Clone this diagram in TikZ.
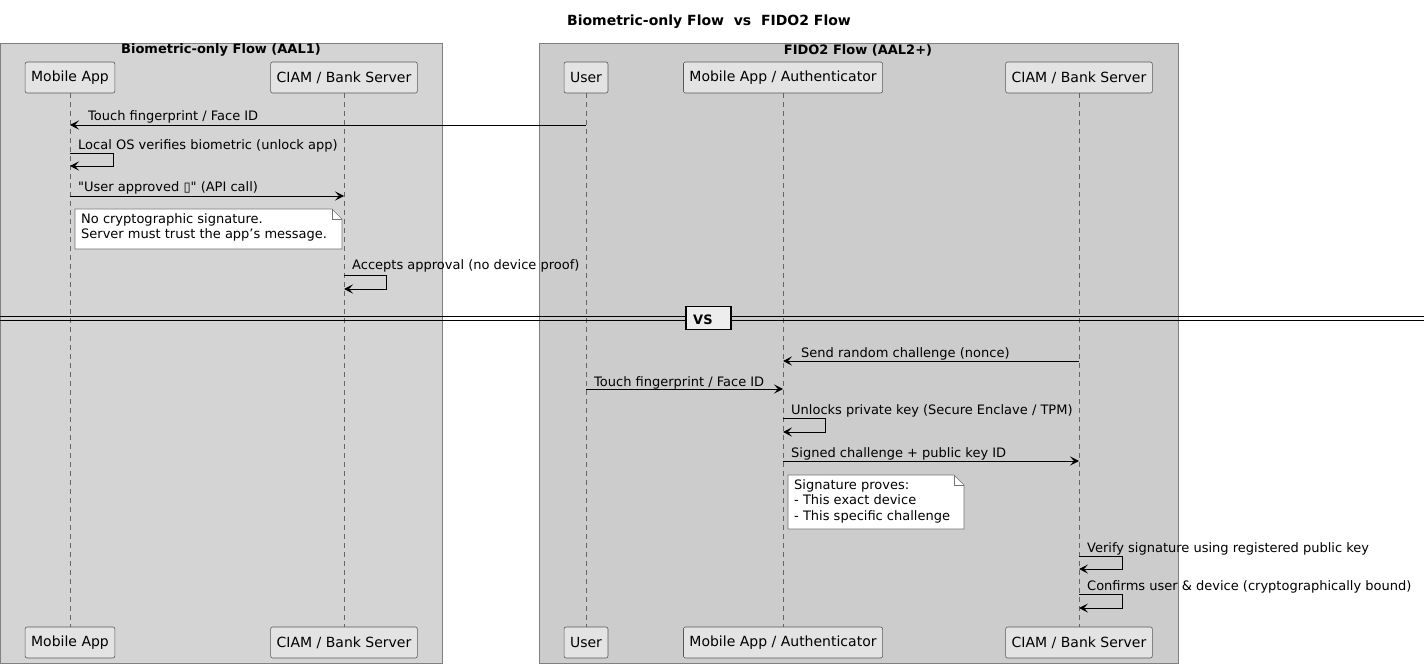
\documentclass[tikz,border=0pt]{standalone}
\usepackage{fontspec}
\setmainfont{DejaVu Sans}[Ligatures=TeXOff]
\usetikzlibrary{arrows.meta,calc}
\begin{document}
\begin{tikzpicture}[x=1pt,y=-1pt,
  grp/.style={draw=black!50,line width=0.8pt},
  part/.style={draw=black!65,fill=black!11,rounded corners=2pt,minimum height=31pt,inner xsep=6pt,font=\fontsize{14}{16}\selectfont,line width=0.6pt},
  life/.style={draw=black!60,dash pattern=on 5pt off 4pt,line width=0.6pt},
  msg/.style={draw=black,line width=0.8pt,-{Stealth[length=9pt,width=9pt,inset=4pt]}},
  lbl/.style={anchor=base west,inner sep=0pt,font=\fontsize{13}{15}\selectfont},
  notebox/.style={fill=white,draw=black!55,line width=0.6pt},
  ntext/.style={anchor=north west,inner sep=0pt,align=left,font=\fontsize{13}{15.5}\selectfont}
]
\useasboundingbox (0,0) rectangle (1424,668);
\fill[white] (0,0) rectangle (1424,668);
% title
\node[font=\bfseries\fontsize{14}{16}\selectfont] (title) at (709,22) {Biometric-only Flow\ \ vs\ \ FIDO2 Flow};
% groups
\draw[grp,fill=black!17] (0.5,43) rectangle (442,663);
\node[font=\bfseries\fontsize{13}{15}\selectfont] (g1) at (221,50) {Biometric-only Flow (AAL1)};
\draw[grp,fill=black!20] (539,43) rectangle (1178,663);
\node[font=\bfseries\fontsize{13}{15}\selectfont] (g2) at (858,50) {FIDO2 Flow (AAL2+)};
% lifelines
\foreach \x in {70,344,586,783,1079} \draw[life] (\x,93) -- (\x,627);
% participants top
\node[part] (ma) at (70,77.5) {Mobile App};
\node[part] (cs) at (344,77.5) {CIAM / Bank Server};
\node[part] (us) at (586,77.5) {User};
\node[part] (au) at (783,77.5) {Mobile App / Authenticator};
\node[part] (cs2) at (1079,77.5) {CIAM / Bank Server};
% participants bottom
\node[part] (mab) at (70,642.5) {Mobile App};
\node[part] (csb) at (344,642.5) {CIAM / Bank Server};
\node[part] (usb) at (586,642.5) {User};
\node[part] (aub) at (783,642.5) {Mobile App / Authenticator};
\node[part] (cs2b) at (1079,642.5) {CIAM / Bank Server};
% messages
\draw[msg] (us |- 0,125) -- (ma |- 0,125);
\node[lbl] (l1) at (88,121) {Touch fingerprint / Face ID};
\node[lbl] (l2) at (78,150) {Local OS verifies biometric (unlock app)};
\draw[msg] (ma |- 0,153) -- (113,153) -- (113,166) -- (ma |- 0,166);
\node[lbl] (l3) at (78,192) {"User approved ▯" (API call)};
\draw[msg] (ma |- 0,196) -- (cs |- 0,196);
% note 1
\draw[notebox] (75,209) -- (332,209) -- (342,219) -- (342,249) -- (75,249) -- cycle;
\draw[black!55,line width=0.6pt] (332,209) -- (332,219) -- (342,219);
\node[ntext] (n1) at (81,213) {No cryptographic signature.\\Server must trust the app’s message.};
\node[lbl] (l4) at (352,270) {Accepts approval (no device proof)};
\draw[msg] (cs |- 0,275) -- (386,275) -- (386,289) -- (cs |- 0,289);
% divider
\draw[black,line width=0.9pt] (0,316) -- (1424,316);
\draw[black,line width=0.9pt] (0,320) -- (1424,320);
\node[draw=black,line width=1.6pt,fill=black!7,minimum width=45pt,minimum height=23pt,inner sep=0pt] (vs) at (708.5,318) {};
\node[anchor=base west,inner sep=0pt,font=\bfseries\fontsize{13}{15}\selectfont] (vst) at (693,324) {VS};
% fido messages
\node[lbl] (l5) at (801,357) {Send random challenge (nonce)};
\draw[msg] (cs2 |- 0,361) -- (au |- 0,361);
\node[lbl] (l6) at (594,386) {Touch fingerprint / Face ID};
\draw[msg] (us |- 0,389) -- (au |- 0,389);
\node[lbl] (l7) at (791,414) {Unlocks private key (Secure Enclave / TPM)};
\draw[msg] (au |- 0,418) -- (825,418) -- (825,432) -- (au |- 0,432);
\node[lbl] (l8) at (791,457) {Signed challenge + public key ID};
\draw[msg] (au |- 0,461) -- (cs2 |- 0,461);
% note 2
\draw[notebox] (788,475) -- (954,475) -- (964,485) -- (964,529) -- (788,529) -- cycle;
\draw[black!55,line width=0.6pt] (954,475) -- (954,485) -- (964,485);
\node[ntext] (n2) at (794,479) {Signature proves:\\- This exact device\\- This specific challenge};
\node[lbl] (l9) at (1087,552) {Verify signature using registered public key};
\draw[msg] (cs2 |- 0,556) -- (1122,556) -- (1122,569) -- (cs2 |- 0,569);
\node[lbl] (l10) at (1087,590) {Confirms user \& device (cryptographically bound)};
\draw[msg] (cs2 |- 0,594) -- (1122,594) -- (1122,608) -- (cs2 |- 0,608);
\end{tikzpicture}
\end{document}
